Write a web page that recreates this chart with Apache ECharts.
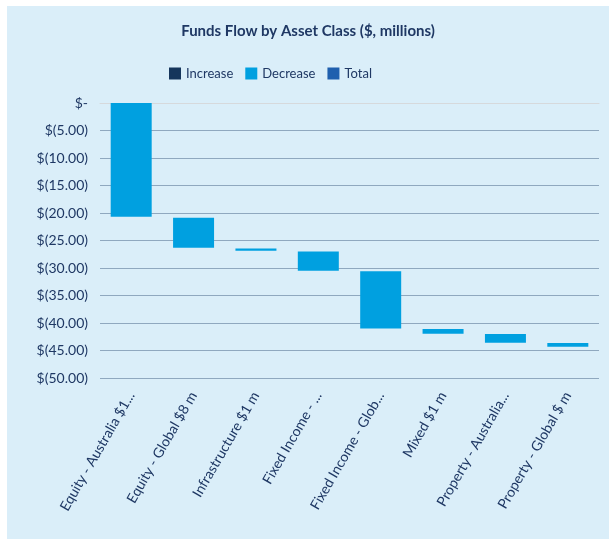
<!DOCTYPE html>
<html>
<head>
<meta charset="utf-8">
<script src="https://cdn.jsdelivr.net/npm/echarts@6/dist/echarts.min.js"></script>
<style>
  html, body { margin: 0; padding: 0; background: #ffffff; }
  #panel { position: absolute; left: 7px; top: 6px; width: 602px; height: 533px; background: #daeef9; }
  #chart { width: 602px; height: 533px; }
</style>
</head>
<body>
<div id="panel"><div id="chart"></div></div>
<script>
// categories (axis labels as shown, already truncated)
const categories = [
  'Equity - Australia $1...',
  'Equity - Global $8 m',
  'Infrastructure $1 m',
  'Fixed Income - ...',
  'Fixed Income - Glob...',
  'Mixed $1 m',
  'Property - Australia...',
  'Property - Global $ m'
];
// invisible base of each floating bar (top edge)
const baseValues = [0, -20.85, -26.45, -27.0, -30.6, -41.1, -42.0, -43.65];
// decrease amounts
const decreaseValues = [-20.7, -5.45, -0.4, -3.5, -10.4, -0.85, -1.6, -0.65];
const increaseValues = [];
const totalValues = [];

const textColor = '#1f3864';
const fontFamily = 'Lato, "Open Sans", sans-serif';

const chart = echarts.init(document.getElementById('chart'));
chart.setOption({
  animation: false,
  textStyle: { fontFamily: fontFamily },
  title: {
    text: 'Funds Flow by Asset Class ($, millions)',
    left: 'center',
    top: 13,
    textStyle: { color: textColor, fontSize: 15, fontWeight: 'bold', fontFamily: fontFamily }
  },
  legend: {
    top: 56,
    left: 157,
    itemWidth: 12,
    itemHeight: 12,
    itemGap: 12,
    icon: 'rect',
    data: ['Increase', 'Decrease', 'Total'],
    textStyle: { color: textColor, fontSize: 13, fontFamily: fontFamily }
  },
  grid: { left: 93, right: 10, top: 97, bottom: 161, containLabel: false },
  xAxis: {
    type: 'category',
    data: categories,
    axisLine: { lineStyle: { color: '#d6d9dc', width: 1 } },
    axisTick: { show: false },
    axisLabel: {
      interval: 0,
      rotate: 60,
      margin: 15,
      color: textColor,
      fontSize: 14,
      fontFamily: fontFamily
    }
  },
  yAxis: {
    type: 'value',
    min: -50,
    max: 0,
    interval: 5,
    axisLine: { show: false },
    axisTick: { show: false },
    splitLine: { lineStyle: { color: '#8fa8bf', width: 1 } },
    axisLabel: {
      color: textColor,
      fontSize: 14,
      margin: 12,
      fontFamily: fontFamily,
      formatter: function (v) {
        if (v === 0) return '$-';
        return '$(' + Math.abs(v).toFixed(2) + ')';
      }
    }
  },
  series: [
    {
      name: 'Base',
      type: 'bar',
      stack: 'wf',
      barWidth: 41,
      itemStyle: { color: 'transparent' },
      emphasis: { disabled: true },
      data: baseValues
    },
    {
      name: 'Increase',
      type: 'bar',
      stack: 'wf',
      barWidth: 41,
      itemStyle: { color: '#16365c' },
      data: increaseValues
    },
    {
      name: 'Decrease',
      type: 'bar',
      stack: 'wf',
      barWidth: 41,
      itemStyle: { color: '#00a0e0' },
      data: decreaseValues
    },
    {
      name: 'Total',
      type: 'bar',
      stack: 'wf',
      barWidth: 41,
      itemStyle: { color: '#1f5fae' },
      data: totalValues
    }
  ]
});
</script>
</body>
</html>
